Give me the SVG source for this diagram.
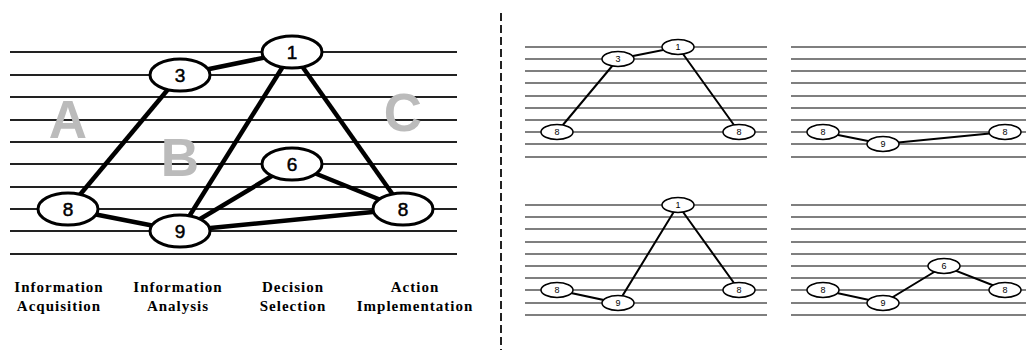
<svg xmlns="http://www.w3.org/2000/svg" width="1026" height="352" viewBox="0 0 1026 352">
<style>
.bg{fill:#fff}
.gl{stroke:#222;stroke-width:2}
.sl{stroke:#555;stroke-width:1.5}
.be{stroke:#000;stroke-width:4.5;fill:none}
.se{stroke:#000;stroke-width:2;fill:none}
.bn{fill:#fff;stroke:#000;stroke-width:3}
.sn{fill:#fff;stroke:#000;stroke-width:1.5}
.bt{font-family:"Liberation Sans",Arial,sans-serif;font-size:19px;text-anchor:middle;fill:#000;stroke:#000;stroke-width:0.5}
.st{font-family:"Liberation Sans",Arial,sans-serif;font-size:9px;text-anchor:middle;fill:#000}
.big{font-family:"Liberation Sans",Arial,sans-serif;font-weight:bold;font-size:53px;text-anchor:middle;fill:#bbb}
.lab{font-family:"Liberation Serif","Times New Roman",serif;font-weight:bold;font-size:15px;letter-spacing:1px;text-anchor:middle;fill:#000}
</style>
<rect class="bg" width="1026" height="352"/>
<g id="grid-main">
<line class="gl" x1="10" y1="52" x2="457" y2="52"/>
<line class="gl" x1="10" y1="75" x2="457" y2="75"/>
<line class="gl" x1="10" y1="97" x2="457" y2="97"/>
<line class="gl" x1="10" y1="120" x2="457" y2="120"/>
<line class="gl" x1="10" y1="142" x2="457" y2="142"/>
<line class="gl" x1="10" y1="164" x2="457" y2="164"/>
<line class="gl" x1="10" y1="187" x2="457" y2="187"/>
<line class="gl" x1="10" y1="209" x2="457" y2="209"/>
<line class="gl" x1="10" y1="231" x2="457" y2="231"/>
<line class="gl" x1="10" y1="254" x2="457" y2="254" stroke-width="2.5"/>
</g>
<g id="zone-letters">
<text class="big" x="68" y="138">A</text>
<text class="big" x="180" y="176">B</text>
<text class="big" x="403" y="131">C</text>
</g>
<g id="connectors">
<line class="be" x1="180" y1="75" x2="292" y2="52"/>
<line class="be" x1="180" y1="75" x2="68" y2="209"/>
<line class="be" x1="292" y1="52" x2="180" y2="231"/>
<line class="be" x1="292" y1="52" x2="403" y2="209"/>
<line class="be" x1="68" y1="209" x2="180" y2="231"/>
<line class="be" x1="180" y1="231" x2="292" y2="164"/>
<line class="be" x1="292" y1="164" x2="403" y2="209"/>
<line class="be" x1="180" y1="231" x2="403" y2="209"/>
</g>
<g id="node-1"><ellipse class="bn" cx="292" cy="52" rx="30" ry="16"/><text class="bt" x="292" y="59">1</text></g>
<g id="node-3"><ellipse class="bn" cx="180" cy="75" rx="30" ry="16"/><text class="bt" x="180" y="82">3</text></g>
<g id="node-6"><ellipse class="bn" cx="292" cy="164" rx="30" ry="16"/><text class="bt" x="292" y="171">6</text></g>
<g id="node-8a"><ellipse class="bn" cx="68" cy="209" rx="30" ry="16"/><text class="bt" x="68" y="216">8</text></g>
<g id="node-9"><ellipse class="bn" cx="180" cy="231" rx="30" ry="16"/><text class="bt" x="180" y="238">9</text></g>
<g id="node-8b"><ellipse class="bn" cx="403" cy="209" rx="30" ry="16"/><text class="bt" x="403" y="216">8</text></g>
<g id="labels">
<text class="lab" x="59" y="292">Information</text>
<text class="lab" x="59" y="311">Acquisition</text>
<text class="lab" x="178" y="292">Information</text>
<text class="lab" x="178" y="311">Analysis</text>
<text class="lab" x="293" y="292">Decision</text>
<text class="lab" x="293" y="311">Selection</text>
<text class="lab" x="415" y="292">Action</text>
<text class="lab" x="415" y="311">Implementation</text>
</g>
<line id="divider" x1="501" y1="13" x2="501" y2="350" stroke="#222" stroke-width="2" stroke-dasharray="8,4"/>
<g id="grid-small">
<path class="sl" d="M525 47H767M525 59H767M525 71H767M525 83H767M525 96H767M525 108H767M525 120H767M525 132H767M525 144H767M525 157H767"/>
<path class="sl" d="M791 47H1026M791 59H1026M791 71H1026M791 83H1026M791 96H1026M791 108H1026M791 120H1026M791 132H1026M791 144H1026M791 157H1026"/>
<path class="sl" d="M525 205H767M525 217H767M525 229H767M525 242H767M525 254H767M525 266H767M525 278H767M525 290H767M525 303H767M525 315H767"/>
<path class="sl" d="M791 205H1026M791 217H1026M791 229H1026M791 242H1026M791 254H1026M791 266H1026M791 278H1026M791 290H1026M791 303H1026M791 315H1026"/>
</g>
<g id="connectors-small">
<polyline class="se" points="557,132 618,59 678,47 739,132"/>
<polyline class="se" points="823,132 883,144 1005,132"/>
<polyline class="se" points="557,290 618,303 678,205 739,290"/>
<polyline class="se" points="823,290 883,303 944,266 1005,290"/>
</g>
<g id="p1-node-1"><ellipse class="sn" cx="678" cy="47" rx="16" ry="7.5"/><text class="st" x="678" y="50">1</text></g>
<g id="p1-node-3"><ellipse class="sn" cx="618" cy="59" rx="16" ry="7.5"/><text class="st" x="618" y="62">3</text></g>
<g id="p1-node-8a"><ellipse class="sn" cx="557" cy="132" rx="16" ry="7.5"/><text class="st" x="557" y="135">8</text></g>
<g id="p1-node-8b"><ellipse class="sn" cx="739" cy="132" rx="16" ry="7.5"/><text class="st" x="739" y="135">8</text></g>
<g id="p2-node-8a"><ellipse class="sn" cx="823" cy="132" rx="16" ry="7.5"/><text class="st" x="823" y="135">8</text></g>
<g id="p2-node-9"><ellipse class="sn" cx="883" cy="144" rx="16" ry="7.5"/><text class="st" x="883" y="147">9</text></g>
<g id="p2-node-8b"><ellipse class="sn" cx="1005" cy="132" rx="16" ry="7.5"/><text class="st" x="1005" y="135">8</text></g>
<g id="p3-node-1"><ellipse class="sn" cx="678" cy="205" rx="16" ry="7.5"/><text class="st" x="678" y="208">1</text></g>
<g id="p3-node-8a"><ellipse class="sn" cx="557" cy="290" rx="16" ry="7.5"/><text class="st" x="557" y="293">8</text></g>
<g id="p3-node-9"><ellipse class="sn" cx="618" cy="303" rx="16" ry="7.5"/><text class="st" x="618" y="306">9</text></g>
<g id="p3-node-8b"><ellipse class="sn" cx="739" cy="290" rx="16" ry="7.5"/><text class="st" x="739" y="293">8</text></g>
<g id="p4-node-8a"><ellipse class="sn" cx="823" cy="290" rx="16" ry="7.5"/><text class="st" x="823" y="293">8</text></g>
<g id="p4-node-9"><ellipse class="sn" cx="883" cy="303" rx="16" ry="7.5"/><text class="st" x="883" y="306">9</text></g>
<g id="p4-node-6"><ellipse class="sn" cx="944" cy="266" rx="16" ry="7.5"/><text class="st" x="944" y="269">6</text></g>
<g id="p4-node-8b"><ellipse class="sn" cx="1005" cy="290" rx="16" ry="7.5"/><text class="st" x="1005" y="293">8</text></g>
</svg>
